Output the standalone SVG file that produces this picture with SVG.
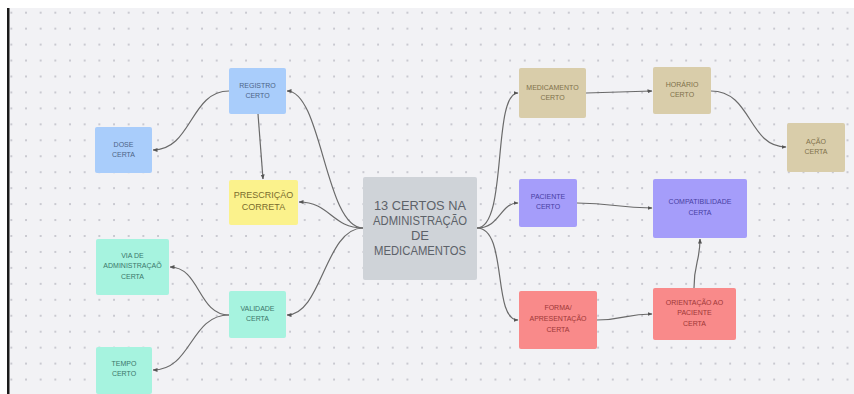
<svg xmlns="http://www.w3.org/2000/svg" width="854" height="394" viewBox="0 0 854 394">
<defs>
<pattern id="dots" x="25" y="11.7" width="14.67" height="15.95" patternUnits="userSpaceOnUse">
<circle cx="1" cy="1" r="1" fill="#bdbdc6"/>
</pattern>
<marker id="arr" viewBox="0 0 10 10" refX="9" refY="5" markerWidth="5" markerHeight="5" orient="auto" markerUnits="userSpaceOnUse">
<path d="M0,1 L10,5 L0,9 Z" fill="#555"/>
</marker>
<style>
.c{fill:none;stroke:#6a6a6a;stroke-width:1.2;marker-end:url(#arr)}
.t{font-family:"Liberation Sans",Arial,sans-serif;font-size:7px;text-anchor:middle}
.blue rect{fill:#a9cdfb}.blue text{fill:#4d6487}
.yel rect{fill:#fbf28c}.yel text{fill:#7a6c2c;font-size:9px}
.cy rect{fill:#a6f3df}.cy text{fill:#3b776b}
.tan rect{fill:#d9cdaa}.tan text{fill:#80714b}
.pur rect{fill:#a59dfa}.pur text{fill:#4840a3}
.sal rect{fill:#f98a8a}.sal text{fill:#9e3838}
.gr rect{fill:#cfd3d8}.gr text{fill:#5d6269;font-size:13px}
</style>
</defs>
<rect x="0" y="0" width="854" height="394" fill="#ffffff"/>
<rect x="9" y="8" width="845" height="386" fill="#f2f2f5"/>
<rect x="9" y="8" width="845" height="386" fill="url(#dots)"/>
<rect x="7" y="8" width="2.5" height="386" fill="#1a1a1a"/>

<g id="connectors">
<path class="c" d="M363,228 C325,228 322,91 287,91"/>
<path class="c" d="M363,228 C332,228 330,202 299,202"/>
<path class="c" d="M363,228 C325,228 322,315 287,315"/>
<path class="c" d="M229,91 C190,91 192,150 153,150"/>
<path class="c" d="M258,114 L263,179"/>
<path class="c" d="M229,315 C198,315 200,267 170,267"/>
<path class="c" d="M229,315 C190,315 192,370 153,370"/>
<path class="c" d="M477,228 C508,228 492,93 518,93"/>
<path class="c" d="M477,228 C500,228 500,203 518,203"/>
<path class="c" d="M477,228 C508,228 492,320 518,320"/>
<path class="c" d="M586,93 L652,91"/>
<path class="c" d="M711,91 C752,91 748,147 786,147"/>
<path class="c" d="M577,203 C615,203 615,208 652,208"/>
<path class="c" d="M597,320 C625,320 625,314 652,314"/>
<path class="c" d="M694,288 C694,262 700,262 700,239"/>
</g>

<g id="center" class="gr">
<rect x="363" y="177" width="114" height="103" rx="2"/>
<text class="t" x="420" y="210" textLength="92" lengthAdjust="spacingAndGlyphs">13 CERTOS NA</text>
<text class="t" x="420" y="225" textLength="94" lengthAdjust="spacingAndGlyphs">ADMINISTRAÇÃO</text>
<text class="t" x="420" y="240">DE</text>
<text class="t" x="420" y="255" textLength="92" lengthAdjust="spacingAndGlyphs">MEDICAMENTOS</text>
</g>

<g id="registro" class="blue">
<rect x="229" y="68" width="57" height="46" rx="2"/>
<text class="t" x="257.5" y="88">REGISTRO</text>
<text class="t" x="257.5" y="98">CERTO</text>
</g>
<g id="dose" class="blue">
<rect x="95" y="127" width="57" height="46" rx="2"/>
<text class="t" x="123.5" y="147">DOSE</text>
<text class="t" x="123.5" y="157">CERTA</text>
</g>
<g id="prescricao" class="yel">
<rect x="229" y="180" width="69" height="45" rx="2"/>
<text class="t" x="263.5" y="198">PRESCRIÇÃO</text>
<text class="t" x="263.5" y="210">CORRETA</text>
</g>
<g id="via" class="cy">
<rect x="96" y="239" width="73" height="56" rx="2"/>
<text class="t" x="132.5" y="258">VIA DE</text>
<text class="t" x="132.5" y="268">ADMINISTRAÇAÕ</text>
<text class="t" x="132.5" y="279">CERTA</text>
</g>
<g id="validade" class="cy">
<rect x="229" y="291" width="57" height="47" rx="2"/>
<text class="t" x="257.5" y="311">VALIDADE</text>
<text class="t" x="257.5" y="321">CERTA</text>
</g>
<g id="tempo" class="cy">
<rect x="96" y="347" width="56" height="47" rx="2"/>
<text class="t" x="124" y="366">TEMPO</text>
<text class="t" x="124" y="376">CERTO</text>
</g>
<g id="medicamento" class="tan">
<rect x="519" y="68" width="67" height="50" rx="2"/>
<text class="t" x="552.5" y="90">MEDICAMENTO</text>
<text class="t" x="552.5" y="100">CERTO</text>
</g>
<g id="horario" class="tan">
<rect x="653" y="67" width="58" height="47" rx="2"/>
<text class="t" x="682" y="87">HORÁRIO</text>
<text class="t" x="682" y="97">CERTO</text>
</g>
<g id="acao" class="tan">
<rect x="787" y="123" width="58" height="49" rx="2"/>
<text class="t" x="816" y="144">AÇÃO</text>
<text class="t" x="816" y="154">CERTA</text>
</g>
<g id="paciente" class="pur">
<rect x="519" y="179" width="58" height="48" rx="2"/>
<text class="t" x="548" y="199">PACIENTE</text>
<text class="t" x="548" y="209">CERTO</text>
</g>
<g id="compatibilidade" class="pur">
<rect x="653" y="179" width="94" height="59" rx="2"/>
<text class="t" x="700" y="204">COMPATIBILIDADE</text>
<text class="t" x="700" y="215">CERTA</text>
</g>
<g id="forma" class="sal">
<rect x="519" y="291" width="78" height="58" rx="2"/>
<text class="t" x="558" y="310">FORMA/</text>
<text class="t" x="558" y="321">APRESENTAÇÃO</text>
<text class="t" x="558" y="332">CERTA</text>
</g>
<g id="orientacao" class="sal">
<rect x="653" y="288" width="83" height="52" rx="2"/>
<text class="t" x="694.5" y="305">ORIENTAÇÃO AO</text>
<text class="t" x="694.5" y="315">PACIENTE</text>
<text class="t" x="694.5" y="326">CERTA</text>
</g>
</svg>
